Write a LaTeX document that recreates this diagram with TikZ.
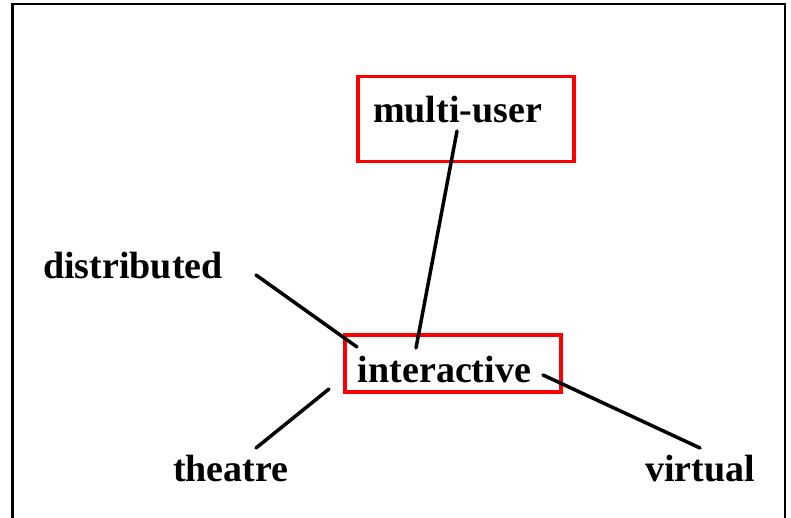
\documentclass[tikz,border=0pt]{standalone}
\usepackage{fontspec}
\setmainfont{Liberation Serif}
\begin{document}
\begin{tikzpicture}[x=1pt,y=-1pt,
  word/.style={inner sep=0pt,font=\fontsize{38}{40}\selectfont\bfseries},
  redbox/.style={draw=red,line width=3.5pt,inner sep=0pt},
  link/.style={draw=black,line width=3.5pt,line cap=round}]
\useasboundingbox (0,0) rectangle (791,518);
\clip (0,0) rectangle (791,518);
\draw[line width=2.5pt] (12.5,4) rectangle (785,540);
\node[redbox,minimum width=216pt,minimum height=85pt,anchor=north west] (mubox) at (356,75) {};
\node[redbox,minimum width=216pt,minimum height=57pt,anchor=north west] (inbox) at (343,333) {};
\node[word,anchor=base] (mu) at (457.5,123) {multi-user};
\node[word,anchor=base] (in) at (444.5,382) {interactive};
\node[word,anchor=base west] (di) at (43,278) {distributed};
\node[word,anchor=base west] (th) at (173,481) {theatre};
\node[word,anchor=base west] (vi) at (645,481) {virtual};
\coordinate (a1) at (457,131);
\coordinate (a2) at (416,348);
\coordinate (b1) at (256,275);
\coordinate (b2) at (357,347);
\coordinate (c1) at (329,389);
\coordinate (c2) at (256,448);
\coordinate (d1) at (543,375);
\coordinate (d2) at (700,448);
\draw[link] (a1) -- (a2);
\draw[link] (b1) -- (b2);
\draw[link] (c1) -- (c2);
\draw[link] (d1) -- (d2);
\end{tikzpicture}
\end{document}
